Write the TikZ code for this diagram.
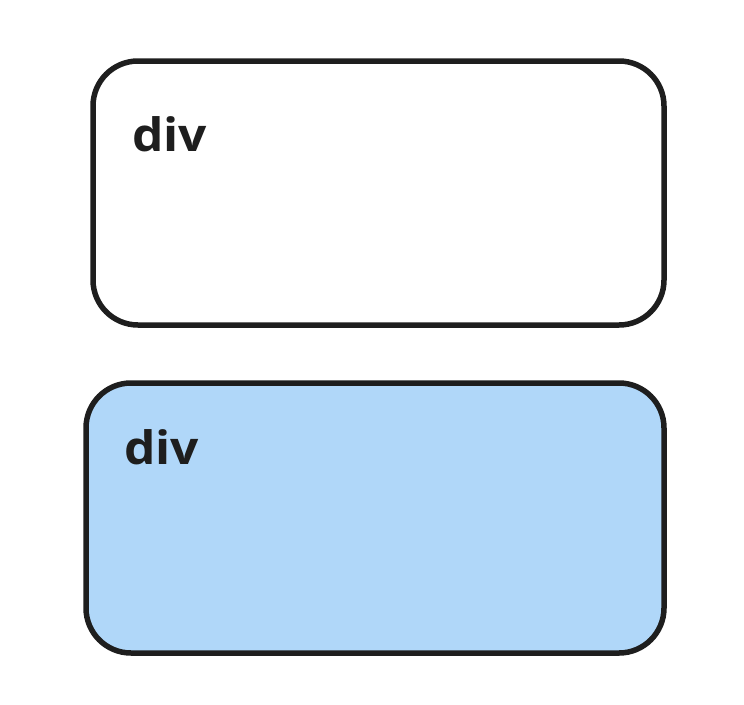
\documentclass[tikz,border=0pt]{standalone}
\usepackage{fontspec}
\setmainfont{Open Sans}
\usepackage{tikz}
\usetikzlibrary{positioning}
\definecolor{lightblue}{RGB}{176,215,249}
\definecolor{inkgray}{RGB}{30,30,30}

\begin{document}
\begin{tikzpicture}[x=1pt, y=-1pt,
    divbox/.style={rectangle, draw=inkgray, line width=5.5pt, rounded corners=45pt, inner sep=0pt},
    divtext/.style={anchor=base west, text=inkgray, inner sep=0pt, xscale=1.08, font=\fontsize{46}{50}\selectfont\bfseries}
]
    \useasboundingbox (0,0) rectangle (744,704);

    % Upper box
    \node[divbox, fill=white, minimum width=571pt, minimum height=264pt] (topbox) at (378.5,193) {};
    \node[divtext] (toptext) at (132,151) {div};

    % Lower box
    \node[divbox, fill=lightblue, minimum width=578pt, minimum height=270pt] (bottombox) at (375,518) {};
    \node[divtext] (bottomtext) at (124,464) {div};

\end{tikzpicture}
\end{document}
